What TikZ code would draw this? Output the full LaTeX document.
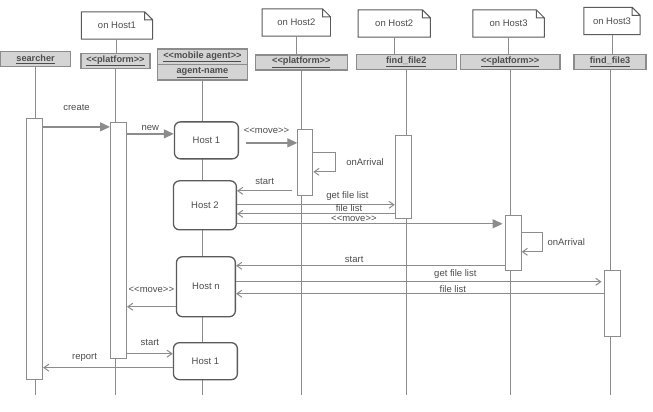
\documentclass[tikz,border=0pt]{standalone}
\usepackage{fontspec}
\newfontfamily\diagfont{Liberation Sans}
\usetikzlibrary{arrows.meta,positioning,shapes.multipart}

\definecolor{linegray}{HTML}{8C8C8C}
\definecolor{textgray}{HTML}{4D4D4D}
\definecolor{headfill}{HTML}{D4D4D4}
\definecolor{hostedge}{HTML}{5A5A5A}

\begin{document}
\begin{tikzpicture}[
    x=1pt, y=-1pt,
    font=\diagfont\fontsize{9.5}{11}\selectfont,
    text=textgray,
    head/.style={rectangle, draw=linegray, fill=headfill, line width=1.2pt, minimum height=15pt, inner sep=1pt, font=\diagfont\fontsize{9.2}{10}\selectfont\bfseries},
    note/.style={minimum height=27pt, inner sep=0pt},
    noteline/.style={draw=hostedge, line width=1pt},
    life/.style={draw=linegray, line width=1pt},
    act/.style={rectangle, draw=linegray, fill=white, line width=1pt, minimum width=16pt, inner sep=0pt},
    host/.style={rectangle, draw=hostedge, fill=white, line width=1.3pt, rounded corners=6pt, inner sep=0pt},
    sync/.style={draw=linegray, line width=1.3pt, -{Triangle[length=10pt,width=9pt]}},
    msg/.style={draw=linegray, line width=1pt, -{Straight Barb[length=5pt,width=7pt]}},
    lbl/.style={inner sep=0.5pt, text=textgray}
]
\fill[white] (0,0) rectangle (653,412);
\coordinate (bottom) at (0,395);

% objects
\node[head, minimum width=70pt] (searcher) at (35,59) {\underline{searcher}};
\node[head, minimum width=69pt] (plat1) at (115,61) {\underline{<<platform>>}};
\node[head, rectangle split, rectangle split parts=2, minimum width=90pt, inner ysep=2pt] (agent) at (202,64.5)
    {\underline{<<mobile agent>>}\nodepart{two}\underline{agent-name}};
\node[head, minimum width=92pt] (plat2) at (301,62.5) {\underline{<<platform>>}};
\node[head, minimum width=100pt] (file2) at (406,62) {\underline{find\_file2}};
\node[head, minimum width=100pt] (plat3) at (510,62) {\underline{<<platform>>}};
\node[head, minimum width=72pt] (file3) at (610,62) {\underline{find\_file3}};

% deployment notes
\node[note, minimum width=71pt] (host1Note) at (116.5,25.5) {on Host1};
\node[note, minimum width=68pt] (host2Note) at (296,22.5) {on Host2};
\node[note, minimum width=72pt] (file2Note) at (394,23.5) {on Host2};
\node[note, minimum width=71pt] (plat3Note) at (508.5,23.5) {on Host3};
\node[note, minimum width=56pt] (file3Note) at (612,21) {on Host3};
\foreach \n in {host1Note,host2Note,file2Note,plat3Note,file3Note}
  \draw[noteline] (\n.north west) -- ([xshift=-8pt]\n.north east) -- ([yshift=-8pt]\n.north east)
      -- (\n.south east) -- (\n.south west) -- cycle
      ([xshift=-8pt]\n.north east) -- ([xshift=-8pt,yshift=-8pt]\n.north east) -- ([yshift=-8pt]\n.north east);
\draw[life] (host1Note.south) -- (host1Note.south |- plat1.north);
\draw[life] (host2Note.south) -- (host2Note.south |- plat2.north);
\draw[life] (file2Note.south) -- (file2Note.south |- file2.north);
\draw[life] (plat3Note.south) -- (plat3Note.south |- plat3.north);
\draw[life] (file3Note.south) -- (file3Note.south |- file3.north);

% lifelines
\foreach \o in {searcher,plat1,agent,plat2,file2,plat3,file3}
  \draw[life] (\o.south) -- (\o.south |- bottom);

% activations
\node[act, minimum height=261pt] (searcherAct) at (34,249.5) {};
\node[act, minimum height=236pt] (plat1Act) at (118,241) {};
\node[act, minimum width=15pt, minimum height=66pt] (plat2Act) at (305,163) {};
\node[act, minimum height=83pt] (file2Act) at (403,177.5) {};
\node[act, minimum height=55pt] (plat3Act) at (513,243.5) {};
\node[act, minimum height=66pt] (file3Act) at (612,304) {};

% agent on the hosts
\node[host, minimum width=64pt, minimum height=37pt] (hostA) at (206,140.5) {Host 1};
\node[host, minimum width=63pt, minimum height=49pt] (hostB) at (204.5,205.5) {Host 2};
\node[host, minimum width=59pt, minimum height=60pt] (hostN) at (205.5,287) {Host n};
\node[host, minimum width=64pt, minimum height=37pt] (hostC) at (205,361.5) {Host 1};

% messages
\draw[sync] (searcherAct.east |- 0,127) -- (plat1Act.west |- 0,127) node[lbl, midway, above=15pt] {create};
\draw[sync] (plat1Act.east |- 0,134) -- (hostA.west |- 0,134) node[lbl, midway, above=2pt] {new};
\draw[sync] ([xshift=7pt]hostA.east |- 0,143) -- (plat2Act.west |- 0,143) node[lbl, pos=.4, above=8pt] {<<move>>};
\draw[msg] (plat2Act.east |- 0,153) -- ++(22,0) -- ++(0,19) node[lbl, midway, right=10pt] {onArrival} -- ++(-22,0);
\draw[msg] ([xshift=-5pt]plat2Act.west |- 0,191) -- (hostB.east |- 0,191) node[lbl, midway, above=5pt] {start};
\draw[msg] (hostB.east |- 0,205) -- (file2Act.west |- 0,205) node[lbl, pos=.7, above=3pt] {get file list};
\draw[msg] (file2Act.west |- 0,214) -- (hostB.east |- 0,214) node[lbl, pos=.29, above=1pt] {file list};
\draw[sync] (hostB.east |- 0,224) -- ([xshift=-2pt]plat3Act.west |- 0,224) node[lbl, pos=.44, above=1pt] {<<move>>};
\draw[msg] (plat3Act.east |- 0,233) -- ++(21,0) -- ++(0,19) node[lbl, midway, right=4pt] {onArrival} -- ++(-21,0);
\draw[msg] (plat3Act.west |- 0,266) -- (hostN.east |- 0,266) node[lbl, pos=.56, above=2pt] {start};
\draw[msg] (hostN.east |- 0,282) -- ([xshift=-2pt]file3Act.west |- 0,282) node[lbl, pos=.6, above=2pt] {get file list};
\draw[msg] (file3Act.west |- 0,294) -- (hostN.east |- 0,294) node[lbl, pos=.41, above=0pt] {file list};
\draw[msg] (hostN.west |- 0,307) -- (plat1Act.east |- 0,307) node[lbl, midway, above=13pt] {<<move>>};
\draw[msg] (plat1Act.east |- 0,354) -- (hostC.west |- 0,354) node[lbl, midway, above=7pt] {start};
\draw[msg] (hostC.west |- 0,368) -- (searcherAct.east |- 0,368) node[lbl, pos=.68, above=5pt] {report};

\end{tikzpicture}
\end{document}
